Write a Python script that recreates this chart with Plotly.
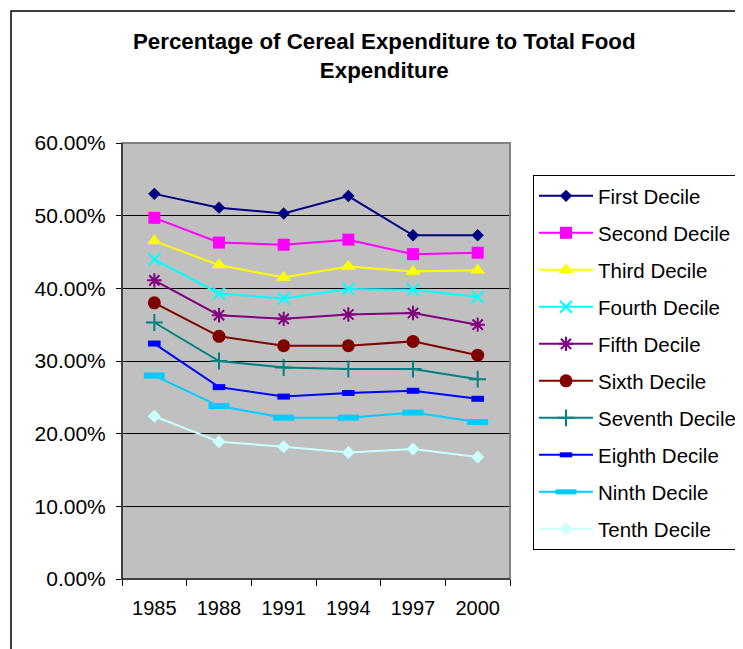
import plotly.graph_objects as go

years = ["1985", "1988", "1991", "1994", "1997", "2000"]

first_decile = [0.530, 0.511, 0.503, 0.527, 0.473, 0.473]
second_decile = [0.497, 0.463, 0.460, 0.467, 0.447, 0.449]
third_decile = [0.465, 0.432, 0.415, 0.430, 0.423, 0.425]
fourth_decile = [0.440, 0.393, 0.386, 0.399, 0.398, 0.388]
fifth_decile = [0.411, 0.363, 0.358, 0.364, 0.366, 0.350]
sixth_decile = [0.380, 0.334, 0.321, 0.321, 0.327, 0.308]
seventh_decile = [0.353, 0.300, 0.291, 0.289, 0.289, 0.275]
eighth_decile = [0.324, 0.264, 0.251, 0.256, 0.259, 0.248]
ninth_decile = [0.280, 0.238, 0.222, 0.222, 0.229, 0.216]
tenth_decile = [0.224, 0.189, 0.182, 0.174, 0.179, 0.168]

names = ["First Decile", "Second Decile", "Third Decile", "Fourth Decile", "Fifth Decile",
         "Sixth Decile", "Seventh Decile", "Eighth Decile", "Ninth Decile", "Tenth Decile"]
series = [first_decile, second_decile, third_decile, fourth_decile, fifth_decile,
          sixth_decile, seventh_decile, eighth_decile, ninth_decile, tenth_decile]
colors = ["#000080", "#FF00FF", "#FFFF00", "#00FFFF", "#800080",
          "#800000", "#008080", "#0000FF", "#00CCFF", "#CCFFFF"]
symbols = ["diamond", "square", "triangle-up", "x-thin-open", "asterisk-open",
           "circle", "cross-thin-open", "line-ew-open", "line-ew-open", "diamond"]
sizes = [9.5, 12, 13, 12, 12, 13, 12, 9, 15, 10]
mlw = [0, 0, 0, 2, 2, 0, 2, 6, 6, 0]

fig = go.Figure()
for i, (n, s) in enumerate(zip(names, series)):
    fig.add_trace(go.Scatter(
        x=years, y=s, name=n, mode="lines+markers", legendgroup=str(i),
        line=dict(color=colors[i], width=2),
        marker=dict(symbol=symbols[i], size=sizes[i], color=colors[i],
                    line=dict(color=colors[i], width=mlw[i])),
    ))

# page body has an 8px default margin; work in screen coordinates and offset
OFF = 8
W, H = 743 - OFF, 649 - OFF
L, R, T, B = 122 - OFF, 510 - OFF, 143 - OFF, 579 - OFF
pw, ph = R - L, B - T

def px(x):
    return (x - OFF - L) / pw

def py(y):
    return (B - (y - OFF)) / ph

fig.update_layout(
    width=W, height=H,
    margin=dict(l=L, r=W - R, t=T, b=H - B, pad=0, autoexpand=False),
    paper_bgcolor="white", plot_bgcolor="#C0C0C0",
    font=dict(family="Liberation Sans, Arial, sans-serif", color="black"),
    showlegend=True,
    legend=dict(
        x=px(533), y=py(175), xanchor="left", yanchor="top",
        bgcolor="white", bordercolor="black", borderwidth=1,
        font=dict(size=20.5), tracegroupgap=7.35, itemwidth=54,
    ),
    xaxis=dict(
        type="category", range=[-0.5, 5.5], tickson="boundaries",
        ticks="outside", ticklen=6, tickcolor="black", tickwidth=1,
        showline=True, linecolor="black", linewidth=1, showgrid=False,
        tickfont=dict(size=20), ticklabelstandoff=11, automargin=False,
    ),
    yaxis=dict(
        range=[0, 0.6], dtick=0.1, tickformat=".2%",
        ticks="outside", ticklen=5, tickcolor="black", tickwidth=1,
        showline=True, linecolor="black", linewidth=1,
        showgrid=True, gridcolor="black", gridwidth=1, zeroline=False,
        tickfont=dict(size=21), ticklabelstandoff=6, automargin=False,
    ),
    shapes=[
        dict(type="rect", xref="paper", yref="paper", x0=0, x1=1, y0=0, y1=1,
             line=dict(color="#808080", width=2), layer="above"),
        dict(type="line", xref="paper", yref="paper", x0=0, x1=0, y0=0, y1=1,
             line=dict(color="black", width=1), layer="above"),
        dict(type="line", xref="paper", yref="paper", x0=0, x1=1, y0=0, y1=0,
             line=dict(color="black", width=1), layer="above"),
        dict(type="rect", xref="paper", yref="paper",
             x0=px(11), x1=px(800), y0=py(700), y1=py(11),
             line=dict(color="black", width=1.5), layer="below"),
    ],
    annotations=[
        dict(text="<b>Percentage of Cereal Expenditure to Total Food<br>Expenditure</b>",
             xref="paper", yref="paper", x=px(384.5), y=py(27),
             xanchor="center", yanchor="top", showarrow=False,
             font=dict(size=22.3, family="Liberation Sans, Arial, sans-serif", color="black"),
             align="center"),
    ],
)

fig.write_html("out.html")
